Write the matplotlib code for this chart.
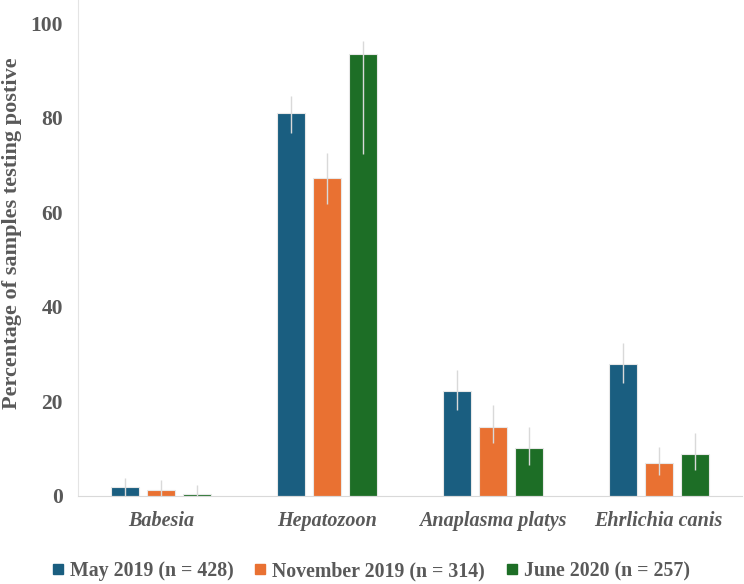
import matplotlib
matplotlib.use('Agg')
import matplotlib.pyplot as plt
import numpy as np
from matplotlib.lines import Line2D

categories = ['Babesia', 'Hepatozoon', 'Anaplasma platys', 'Ehrlichia canis']
series = ['May 2019 (n = 428)', 'November 2019 (n = 314)', 'June 2020 (n = 257)']
colors = ['#1a5e80', '#e97132', '#1d6e26']

may2019 = [1.9, 81.0, 22.2, 27.9]
nov2019 = [1.3, 67.2, 14.6, 7.0]
jun2020 = [0.4, 93.4, 10.1, 8.9]

# error bar ends (lower, upper)
may_lo = [0.0, 76.7, 18.2, 23.9]
may_hi = [3.8, 84.6, 26.6, 32.3]
nov_lo = [0.0, 61.7, 11.2, 4.4]
nov_hi = [3.4, 72.5, 19.2, 10.4]
jun_lo = [0.0, 72.3, 6.6, 5.5]
jun_hi = [2.3, 96.2, 14.6, 13.3]

values = [may2019, nov2019, jun2020]
lows = [may_lo, nov_lo, jun_lo]
highs = [may_hi, nov_hi, jun_hi]

plt.rcParams['font.family'] = ['Liberation Serif', 'DejaVu Serif']
grey = '#595959'

fig = plt.figure(figsize=(7.44, 5.84), dpi=100)
ax = fig.add_axes([0.105, 0.151, 0.892, 0.849])

x = np.arange(len(categories))
w = 0.17
offs = [-0.217, 0, 0.217]
for i in range(3):
    v = np.array(values[i])
    lo = v - np.array(lows[i])
    hi = np.array(highs[i]) - v
    ax.bar(x + offs[i], v, w, color=colors[i], edgecolor='#e8e8e8', linewidth=0.8, zorder=2)
    ax.errorbar(x + offs[i], v, yerr=[lo, hi], fmt='none', ecolor='#d9d9d9',
                elinewidth=1, capsize=0, zorder=3)

ax.set_xlim(-0.5, 3.5)
ax.set_ylim(0, 104.9)
ax.set_yticks([0, 20, 40, 60, 80, 100])
ax.set_xticks(x)
ax.set_xticklabels(categories, fontstyle='italic', fontweight='bold', fontsize=14.5, color=grey)
for lab in ax.get_yticklabels():
    lab.set_fontweight('bold')
    lab.set_fontsize(15.5)
    lab.set_color(grey)
ax.tick_params(length=0)
ax.tick_params(axis='x', pad=11)
ax.tick_params(axis='y', pad=11)

for s in ['top', 'right']:
    ax.spines[s].set_visible(False)
ax.spines['left'].set_color('#e4e4e4')
ax.spines['bottom'].set_color('#d9d9d9')

ax.set_ylabel('Percentage of samples testing postive', fontsize=16, fontweight='bold',
              color=grey)
ax.yaxis.set_label_coords(-0.085, 0.53)

handles = [Line2D([], [], marker='s', linestyle='none', markersize=7.5, color=c) for c in colors]
fig.legend(handles, series, loc='lower center', bbox_to_anchor=(0.497, -0.026), ncol=3,
           frameon=False, prop={'weight': 'bold', 'size': 14.3}, labelcolor=grey,
           handlelength=0.8, handletextpad=0.2, columnspacing=0.95)

fig.savefig('out.png', dpi=100)
